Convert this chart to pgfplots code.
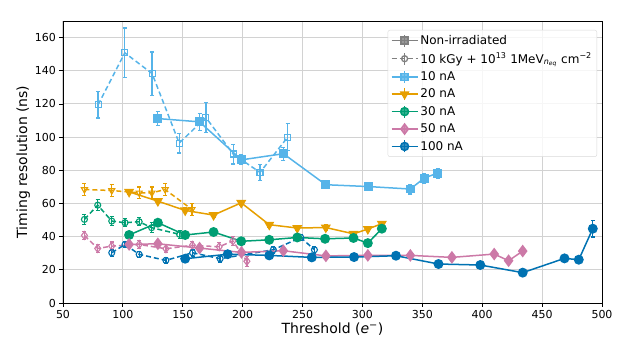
\documentclass[border=0pt]{standalone}
\usepackage{pgfplots}
\pgfplotsset{compat=1.18}
\usepackage{pgfplotstable}
\usepackage{fontspec}
\setmainfont{DejaVu Sans}
\definecolor{cA}{HTML}{56B4E9}
\definecolor{cB}{HTML}{E69F00}
\definecolor{cC}{HTML}{009E73}
\definecolor{cD}{HTML}{CC79A7}
\definecolor{cE}{HTML}{0072B2}
\definecolor{cG}{HTML}{808080}

\pgfplotstableread{
x y e
129.0 111.2 4
164.0 109.2 5
199.0 86.3 3
234.0 90.0 4
269.4 71.3 2
305.0 70.2 2
340.0 68.7 3
351.6 75.3 3
362.7 78.3 3
}\tAf
\pgfplotstableread{
x y e
79.3 119.5 8
101.6 150.8 15
124.4 138.3 13
147.0 96.4 6
169.3 111.8 9
192.1 89.8 6
214.5 78.7 5
237.6 100.0 8
}\tAd
\pgfplotstableread{
x y e
105.2 67.0 1.5
129.2 61.4 1.5
152.0 55.8 1.5
175.7 53.0 1.5
198.8 60.4 1.5
222.2 47.2 1.5
245.6 45.2 1.5
269.4 45.5 1.5
292.5 41.7 1.5
304.5 44.6 1.5
316.2 47.8 1.5
}\tBf
\pgfplotstableread{
x y e
67.9 68.4 3.5
90.7 67.8 3.5
113.6 66.4 3.5
124.2 66.4 3.5
135.3 68.4 3.5
157.6 56.4 3.5
}\tBd
\pgfplotstableread{
x y e
105.2 41.0 1.5
129.2 48.4 1.5
152.0 41.0 1.5
175.7 42.8 1.5
198.8 37.2 1.5
222.2 38.1 1.5
245.6 39.5 1.5
268.8 38.7 1.5
292.5 39.2 1.5
304.5 36.1 1.5
316.2 44.8 1.5
}\tCf
\pgfplotstableread{
x y e
67.9 50.4 3
79.0 59.0 3.5
90.7 49.4 2.5
101.8 48.4 2.5
113.6 49.0 2.5
124.0 45.4 3
147.3 41.4 2.5
}\tCd
\pgfplotstableread{
x y e
105.2 35.3 1.5
129.2 35.7 1.5
164.0 33.1 1.5
199.0 30.5 1.5
234.0 31.5 1.5
269.5 28.4 1.5
304.5 28.7 1.5
340.0 28.7 1.5
374.7 27.5 1.5
410.0 29.5 1.5
422.0 25.5 1.5
433.8 31.3 1.5
}\tDf
\pgfplotstableread{
x y e
67.9 40.7 2.5
79.0 32.9 2.5
90.7 34.3 2.5
113.6 35.3 2.5
135.9 32.7 2.5
158.0 34.8 2.5
180.4 33.9 2.5
191.8 37.4 2.5
203.5 25.2 3
}\tDd
\pgfplotstableread{
x y e
152.0 26.7 1.5
187.5 29.4 1.5
222.2 28.7 1.5
257.7 27.5 1.5
293.0 27.7 1.5
328.0 28.5 1.5
363.5 23.5 1.5
398.4 22.9 1.5
433.8 18.3 1.5
468.7 26.9 1.5
480.6 26.1 1.5
492.3 44.8 5
}\tEf
\pgfplotstableread{
x y e
90.7 30.3 2
101.8 35.3 2
113.6 29.3 2
135.9 25.7 2
158.2 30.3 2
181.2 26.7 2
225.6 32.1 2
248.5 39.5 2
259.9 32.1 2
}\tEd

\pgfplotsset{
  base/.style={
    /pgfplots/error bars/y dir=both,
    /pgfplots/error bars/y explicit,
    /pgfplots/error bars/error bar style={line width=1.3pt, solid},
    /pgfplots/error bars/error mark options={rotate=90, mark size=2pt, line width=1.1pt, solid},
    color=#1, line width=1.5pt},
  fil/.style={base=#1, solid},
  irr/.style={base=#1, dash pattern=on 5pt off 3pt},
}

\begin{document}
\begin{tikzpicture}
\begin{axis}[
  scale only axis, width=539pt, height=282pt,
  xmin=50, xmax=500, ymin=0, ymax=170,
  xtick={50,100,...,500}, ytick={0,20,...,160},
  tick align=outside, tick pos=left,
  major tick length=3.5pt,
  every tick/.style={black, line width=0.8pt},
  axis line style={line width=0.8pt},
  grid=major, major grid style={gray!35, line width=1pt},
  tick label style={font=\fontsize{11}{13}\selectfont},
  /pgf/number format/assume math mode=true,
  xlabel={Threshold (\textit{e}\textsuperscript{−})},
  ylabel={Timing resolution (ns)},
  label style={font=\fontsize{14}{16}\selectfont},
  xlabel style={yshift=2pt},
  ylabel style={yshift=-2pt},
  legend style={at={(1,1)}, anchor=north east, xshift=-5pt, yshift=-9pt,
    draw=gray!30, rounded corners=2pt, fill=white, fill opacity=0.8, text opacity=1,
    font=\fontsize{12}{14}\selectfont, row sep=3pt, inner xsep=3pt, inner ysep=3pt},
  legend cell align=left,
  legend image code/.code={
    \draw[#1,solid,mark=none] (13pt,-6pt) -- (13pt,6pt);
    \draw[#1,mark repeat=2,mark phase=2] plot coordinates {(0pt,0pt) (13pt,0pt) (26pt,0pt)};
  },
]
\addlegendimage{color=cG, line width=1.5pt, solid, mark=square*, mark size=3.5pt}
\addlegendentry{Non-irradiated}
\addlegendimage{color=cG, line width=1.3pt, dash pattern=on 5pt off 3pt, mark=o, mark size=3pt, mark options={solid}}
\addlegendentry{10 kGy + 10\textsuperscript{13} 1MeV\textsubscript{\textit{n}\textsubscript{\textit{eq}}} cm\textsuperscript{−2}}
\addlegendimage{color=cA, line width=1.5pt, solid, mark=square*, mark size=3.5pt}
\addlegendentry{10 nA}
\addlegendimage{color=cB, line width=1.5pt, solid, mark=triangle*, mark size=4.2pt, mark options={rotate=180}}
\addlegendentry{20 nA}
\addlegendimage{color=cC, line width=1.5pt, solid, mark=*, mark size=4pt}
\addlegendentry{30 nA}
\addlegendimage{color=cD, line width=1.5pt, solid, mark=diamond*, mark size=5pt}
\addlegendentry{50 nA}
\addlegendimage{color=cE, line width=1.5pt, solid, mark=*, mark size=4pt}
\addlegendentry{100 nA}

% irradiated (dashed, open markers)
\addplot[irr=cA, mark=square, mark size=3pt, mark options={solid, line width=1.1pt}, forget plot] table[x=x,y=y,y error=e] {\tAd};
\addplot[irr=cB, mark=triangle, mark size=3.5pt, mark options={solid, rotate=180, line width=1.1pt}, forget plot] table[x=x,y=y,y error=e] {\tBd};
\addplot[irr=cC, mark=o, mark size=3pt, mark options={solid, line width=1.1pt}, forget plot] table[x=x,y=y,y error=e] {\tCd};
\addplot[irr=cD, mark=diamond, mark size=4pt, mark options={solid, line width=1.1pt}, forget plot] table[x=x,y=y,y error=e] {\tDd};
\addplot[irr=cE, mark=o, mark size=3pt, mark options={solid, line width=1.1pt}, forget plot] table[x=x,y=y,y error=e] {\tEd};
% non-irradiated (solid, filled markers)
\addplot[fil=cA, mark=square*, mark size=3.7pt, forget plot] table[x=x,y=y,y error=e] {\tAf};
\addplot[fil=cB, mark=triangle*, mark size=4.4pt, mark options={rotate=180}, forget plot] table[x=x,y=y,y error=e] {\tBf};
\addplot[fil=cC, mark=*, mark size=4.2pt, forget plot] table[x=x,y=y,y error=e] {\tCf};
\addplot[fil=cD, mark=diamond*, mark size=5.2pt, forget plot] table[x=x,y=y,y error=e] {\tDf};
\addplot[fil=cE, mark=*, mark size=4.2pt, forget plot] table[x=x,y=y,y error=e] {\tEf};
\end{axis}
\path (current axis.south west) ++(-63pt,-50pt);
\path (current axis.north east) ++(32pt,21pt);
\end{tikzpicture}
\end{document}
